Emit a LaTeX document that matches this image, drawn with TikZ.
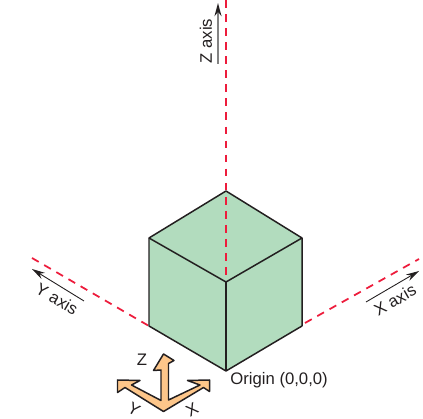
\documentclass[tikz,border=0pt]{standalone}
\usepackage{fontspec}
\setmainfont{Liberation Sans}
\usetikzlibrary{arrows.meta}
\definecolor{cubecol}{RGB}{178,220,190}
\definecolor{axisred}{RGB}{237,28,60}
\definecolor{iconcol}{RGB}{253,198,138}
\definecolor{edgecol}{RGB}{35,31,32}
\definecolor{zarrowcol}{RGB}{130,130,130}

\begin{document}
\begin{tikzpicture}[
    edge/.style={draw=edgecol, line width=0.85pt, line join=round},
    axisline/.style={axisred, line width=1pt, dash pattern=on 4.4pt off 3.6pt},
    arr/.style={-{Stealth[length=7.5pt, width=4pt, color=edgecol]}, edgecol, line width=0.5pt},
    lab/.style={text=edgecol, font=\fontsize{9.5}{11}\selectfont, inner sep=0pt},
]

\path[use as bounding box] (0,0) rectangle (8.46,8.38);

% 0. CUBE CORNERS
\coordinate (TOP)   at (4.52,4.56);
\coordinate (LEFT)  at (2.98,3.62);
\coordinate (RIGHT) at (6.04,3.62);
\coordinate (FRONT) at (4.52,2.74);
\coordinate (BASE)  at (4.52,0.96);
\coordinate (BL)    at (2.98,1.86);
\coordinate (BR)    at (6.04,1.86);

% axis line ends
\coordinate (ZEND) at (4.52,8.38);
\coordinate (YEND) at (0.64,3.22);
\coordinate (XEND) at (8.38,3.20);
\coordinate (XBEG) at (6.10,1.92);

% 1. CUBE
\fill[cubecol] (TOP) -- (RIGHT) -- (BR) -- (BASE) -- (BL) -- (LEFT) -- cycle;

% Dashed axes
\draw[axisline] (ZEND) -- (FRONT);
\draw[axisline] (YEND) -- (BL);
\draw[axisline] (XBEG) -- (XEND);

\draw[edge] (TOP) -- (RIGHT) -- (BR) -- (BASE) -- (BL) -- (LEFT) -- cycle;
\draw[edge] (LEFT) -- (FRONT) -- (RIGHT);
\draw[edge] (FRONT) -- (BASE);

% 2. AXIS ARROWS AND LABELS
\coordinate (ZA) at (4.36,7.10);
\coordinate (ZB) at (4.36,8.32);
\coordinate (YA) at (1.68,2.36);
\coordinate (YB) at (0.64,3.00);
\coordinate (XA) at (7.32,2.34);
\coordinate (XB) at (8.38,2.96);
\draw[arr, draw=zarrowcol, line width=0.9pt] (ZA) -- (ZB);
\draw[arr] (YA) -- (YB);
\draw[arr] (XA) -- (XB);
\node[lab, rotate=90]  (zlabel) at (4.12,7.56) {Z axis};
\node[lab, rotate=-30] (ylabel) at (1.14,2.40) {Y axis};
\node[lab, rotate=30]  (xlabel) at (7.90,2.38) {X axis};
\node[lab, anchor=west] (origin) at (4.60,0.78) {Origin (0,0,0)};

% 3. SMALL AXES ICON
\draw[edge, fill=iconcol]
    (3.27,1.30) -- (3.48,1.17) -- (3.37,1.11) -- (3.37,0.38)
    -- (4.00,0.68) -- (3.75,0.77) -- (4.19,0.78) -- (4.19,0.55)
    -- (4.07,0.63) -- (3.27,0.15) -- (2.50,0.63) -- (2.35,0.53)
    -- (2.35,0.78) -- (2.80,0.77) -- (2.63,0.68) -- (3.22,0.37)
    -- (3.22,0.98) -- (3.07,0.97) -- cycle;
\node[lab] (iconz) at (2.84,1.18) {Z};
\node[lab, rotate=-30] (icony) at (2.68,0.19) {Y};
\node[lab, rotate=30]  (iconx) at (3.84,0.19) {X};

\end{tikzpicture}
\end{document}
